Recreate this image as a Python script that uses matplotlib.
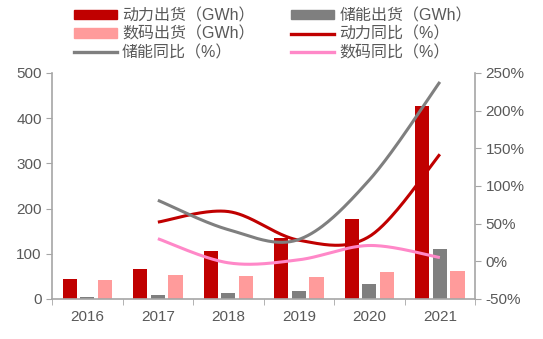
import numpy as np
import matplotlib.pyplot as plt
from matplotlib.lines import Line2D
from matplotlib.patches import Patch

plt.rcParams['font.family'] = ['Liberation Sans', 'Noto Sans CJK SC']

years = ['2016', '2017', '2018', '2019', '2020', '2021']
power_gwh = [44, 66, 107, 134, 178, 427]
storage_gwh = [5, 9, 13, 18, 33, 111]
digital_gwh = [41, 53, 51, 49, 60, 63]

# yoy growth, first year has no value
power_yoy = [52, 66, 28, 33, 142]
storage_yoy = [81, 42, 29, 108, 238]
digital_yoy = [30, -2, 2, 21, 5]

RED = '#C00000'
GREY = '#7F7F7F'
PINK = '#FF9B9B'
PINKLINE = '#FF88C8'
TXT = '#595959'
AX = '#A6A6A6'


def smooth(x, y, n=40):
    # excel-style smoothed line: bezier segments, control pts from neighbours / 6
    x = np.asarray(x, float)
    y = np.asarray(y, float)
    px = np.concatenate([[x[0]], x, [x[-1]]])
    py = np.concatenate([[y[0]], y, [y[-1]]])
    xs, ys = [], []
    t = np.linspace(0, 1, n)
    for i in range(len(x) - 1):
        p0 = np.array([px[i + 1], py[i + 1]])
        p3 = np.array([px[i + 2], py[i + 2]])
        p1 = p0 + (np.array([px[i + 2], py[i + 2]]) - np.array([px[i], py[i]])) / 6
        p2 = p3 - (np.array([px[i + 3], py[i + 3]]) - np.array([px[i + 1], py[i + 1]])) / 6
        b = ((1 - t) ** 3)[:, None] * p0 + (3 * (1 - t) ** 2 * t)[:, None] * p1 \
            + (3 * (1 - t) * t ** 2)[:, None] * p2 + (t ** 3)[:, None] * p3
        xs.append(b[:, 0])
        ys.append(b[:, 1])
    return np.concatenate(xs), np.concatenate(ys)


fig = plt.figure(figsize=(5.43, 3.39), dpi=100)
ax = fig.add_axes([0.096, 0.118, 0.779, 0.667])
ax2 = ax.twinx()

x = np.arange(len(years))
w = 0.2
ax.bar(x - 0.25, power_gwh, w, color=RED, zorder=2)
ax.bar(x, storage_gwh, w, color=GREY, zorder=2)
ax.bar(x + 0.25, digital_gwh, w, color=PINK, zorder=2)

xl = x[1:]
for vals, c in [(power_yoy, RED), (storage_yoy, GREY), (digital_yoy, PINKLINE)]:
    sx, sy = smooth(xl, vals)
    ax2.plot(sx, sy, color=c, lw=2.2, solid_capstyle='butt')

ax.set_xlim(-0.5, 5.5)
ax.set_ylim(0, 500)
ax.set_yticks(range(0, 501, 100))
ax2.set_ylim(-50, 250)
ax2.set_yticks(range(-50, 251, 50))
ax2.set_yticklabels([f'{v}%' for v in range(-50, 251, 50)])

ax.set_xticks(x)
ax.set_xticklabels(years)
ax.set_xticks(np.arange(-0.5, 6, 1), minor=True)
ax.tick_params(axis='x', which='major', length=0, pad=8, labelsize=11, labelcolor=TXT)
ax.tick_params(axis='x', which='minor', length=4, color=AX)
ax.tick_params(axis='y', length=4, color=AX, labelsize=11, labelcolor=TXT)
ax2.tick_params(axis='y', length=4, color=AX, labelsize=11, labelcolor=TXT)

for a in (ax, ax2):
    for s in a.spines.values():
        s.set_visible(False)
ax.spines['left'].set_visible(True)
ax.spines['bottom'].set_visible(True)
ax2.spines['right'].set_visible(True)
for s in (ax.spines['left'], ax.spines['bottom'], ax2.spines['right']):
    s.set_color(AX)
    s.set_linewidth(1.2)

# legend fills column by column
handles = [
    Patch(color=RED), Patch(color=PINK), Line2D([], [], color=GREY, lw=2.4),
    Patch(color=GREY), Line2D([], [], color=RED, lw=2.4), Line2D([], [], color=PINKLINE, lw=2.4),
]
labels = ['动力出货（GWh）', '数码出货（GWh）', '储能同比（%）',
          '储能出货（GWh）', '动力同比（%）', '数码同比（%）']
fig.legend(handles, labels, ncol=2, loc='upper left', bbox_to_anchor=(0.110, 1.019),
           frameon=False, fontsize=11.5, labelcolor=TXT, handlelength=2.7,
           handleheight=0.55, handletextpad=0.3, columnspacing=2.3, labelspacing=0.22)

fig.savefig('out.png', dpi=100)
